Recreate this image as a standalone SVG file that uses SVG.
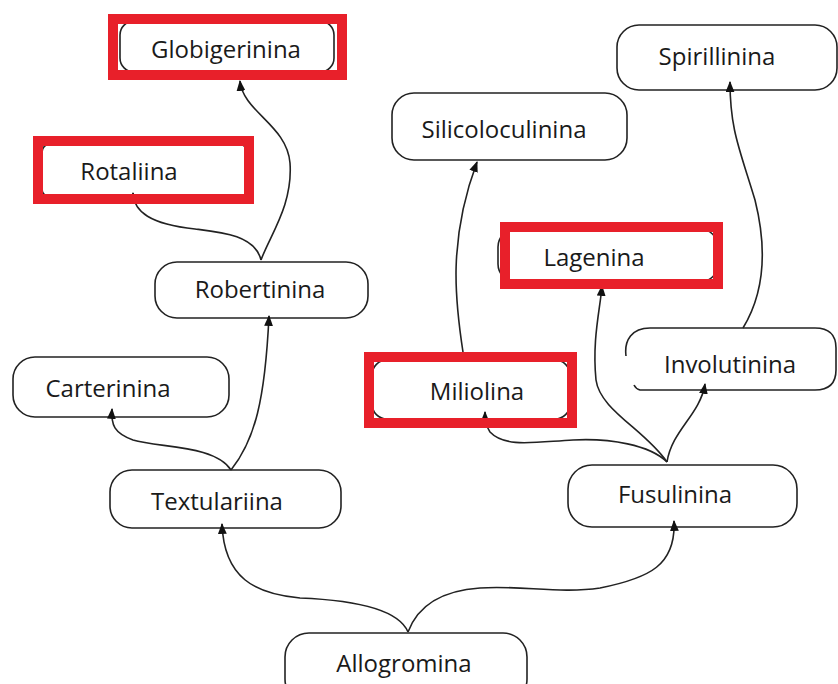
<svg xmlns="http://www.w3.org/2000/svg" width="838" height="684" viewBox="0 0 838 684">
<style>
.node rect, .node path { fill: #ffffff; stroke: #222222; stroke-width: 1.6; }
.node text { font-family: "Open Sans", "Noto Sans", "DejaVu Sans", sans-serif; font-size: 24px; font-weight: 500; fill: #1a1a1a; text-anchor: middle; }
.conn path { fill: none; stroke: #222222; stroke-width: 1.6; marker-end: url(#arr); }
.hl { fill: none; stroke: #e8202a; stroke-width: 10; }
</style>
<defs>
<marker id="arr" viewBox="0 0 10 8" refX="9" refY="4" markerWidth="11" markerHeight="9" markerUnits="userSpaceOnUse" orient="auto">
<path d="M0,0 L10,4 L0,8 z" fill="#111111"/>
</marker>
</defs>
<rect width="838" height="684" fill="#ffffff"/>
<g id="Globigerinina" class="node">
<rect x="120" y="21" width="214" height="51" rx="14"/>
<text x="226" y="58">Globigerinina</text>
</g>
<g id="Rotaliina" class="node">
<rect x="42" y="144" width="205" height="53" rx="8"/>
<text x="129" y="180">Rotaliina</text>
</g>
<g id="Robertinina" class="node">
<rect x="155" y="262" width="213" height="56" rx="22"/>
<text x="260" y="298">Robertinina</text>
</g>
<g id="Carterinina" class="node">
<rect x="13" y="357" width="216" height="60" rx="22"/>
<text x="108" y="397">Carterinina</text>
</g>
<g id="Textulariina" class="node">
<rect x="110" y="470" width="231" height="58" rx="22"/>
<text x="217" y="510">Textulariina</text>
</g>
<g id="Allogromina" class="node">
<rect x="285" y="633" width="242" height="70" rx="24"/>
<text x="404" y="672">Allogromina</text>
</g>
<g id="Silicoloculinina" class="node">
<rect x="392" y="93" width="235" height="67" rx="22"/>
<text x="504" y="138">Silicoloculinina</text>
</g>
<g id="Lagenina" class="node">
<rect x="498" y="229" width="220" height="53" rx="18"/>
<text x="594" y="266">Lagenina</text>
</g>
<g id="Miliolina" class="node">
<rect x="372" y="360" width="198" height="59" rx="15"/>
<text x="477" y="400">Miliolina</text>
</g>
<g id="Involutinina" class="node">
<path d="M626,356 C624,340 632,328 650,328 L815,328 Q836,328 836,348 L836,370 Q836,390 815,390 L640,390 Q636,389 634,385"/>
<text x="730" y="373">Involutinina</text>
</g>
<g id="Spirillinina" class="node">
<rect x="617" y="25" width="220" height="65" rx="22"/>
<text x="717" y="65">Spirillinina</text>
</g>
<g id="Fusulinina" class="node">
<rect x="568" y="465" width="229" height="62" rx="24"/>
<text x="675" y="503">Fusulinina</text>
</g>
<g id="connectors" class="conn">
<path d="M408,632 C398,608 350,600 300,598 C255,594 224,578 222,524"/>
<path d="M408,632 C420,600 450,590 480,588 C520,585 560,594 600,588 C650,578 676,565 674,521"/>
<path d="M231,470 C215,445 160,448 133,440 C114,433 111,425 112,409"/>
<path d="M231,470 C255,440 265,400 269,316"/>
<path d="M261,260 C255,235 220,232 195,229 C150,224 134,212 133,193"/>
<path d="M261,260 C270,235 293,205 290,163 C287,125 243,112 240,81"/>
<path d="M667,462 C650,445 610,438 573,440 C535,442 505,448 490,432 C486,426 485,420 485,412"/>
<path d="M667,462 C645,430 600,410 596,380 C592,340 600,310 602,286"/>
<path d="M667,462 C672,430 700,415 705,384"/>
<path d="M463,352 C455,300 448,240 477,162"/>
<path d="M743,328 C760,300 770,260 755,200 C740,150 730,130 730,82"/>
</g>
<g id="highlights">
<rect class="hl" x="113" y="19" width="229" height="56"/>
<rect class="hl" x="38" y="141" width="211" height="58"/>
<rect class="hl" x="505" y="227" width="213" height="57"/>
<rect class="hl" x="369" y="357" width="203" height="66"/>
</g>
</svg>
